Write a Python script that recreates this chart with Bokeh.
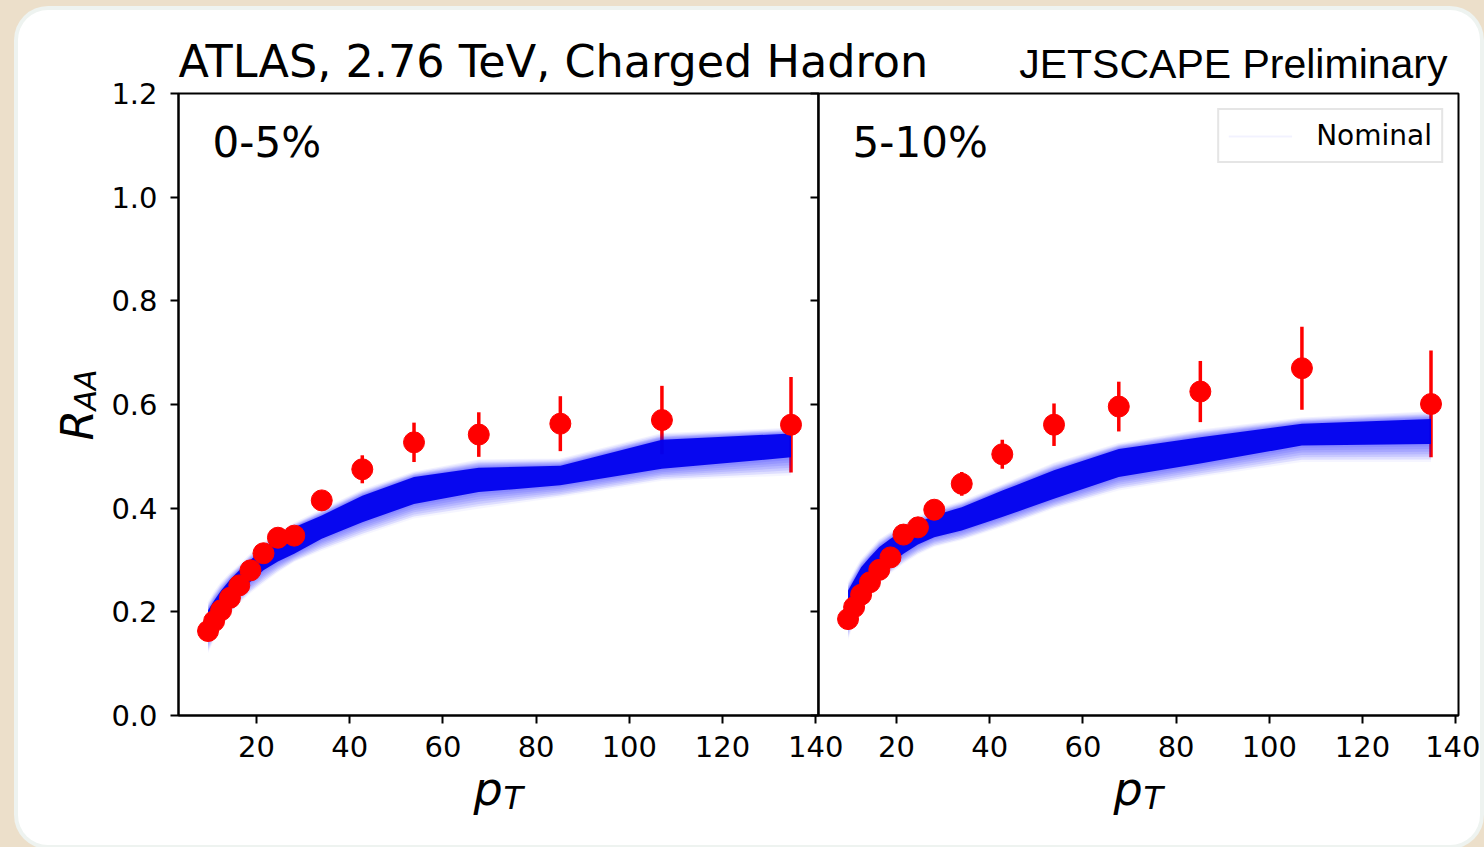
import numpy as np
from bokeh.plotting import figure
from bokeh.models import (FixedTicker, PrintfTickFormatter, Label, Legend, LegendItem,
                          GridBox, Column, Range1d, CustomLabelingPolicy)
from bokeh.embed import file_html
from bokeh.resources import INLINE

# ---------------- data ----------------
pt_bins = [9.6, 10.9, 12.4, 14.3, 16.3, 18.7, 21.5, 24.6, 28.1, 34.0, 42.7, 53.8, 67.7, 85.2, 107.0, 134.7]

# ATLAS data, 0-5%
raa_0_5 = [0.163, 0.182, 0.203, 0.227, 0.251, 0.280, 0.313, 0.343, 0.347, 0.415, 0.475, 0.527, 0.542, 0.563, 0.570, 0.561]
err_0_5 = [0.008, 0.008, 0.008, 0.009, 0.009, 0.010, 0.010, 0.011, 0.012, 0.017, 0.027, 0.038, 0.043, 0.053, 0.066, 0.092]
# ATLAS data, 5-10%
raa_5_10 = [0.186, 0.209, 0.233, 0.257, 0.281, 0.305, 0.349, 0.363, 0.397, 0.447, 0.504, 0.561, 0.596, 0.625, 0.670, 0.601]
err_5_10 = [0.008, 0.008, 0.009, 0.009, 0.010, 0.010, 0.011, 0.012, 0.013, 0.023, 0.028, 0.041, 0.048, 0.059, 0.080, 0.103]

# JETSCAPE "Nominal" posterior band, 0-5%
core_lo_0_5 = [0.151, 0.175, 0.197, 0.217, 0.235, 0.258, 0.280, 0.297, 0.312, 0.341, 0.373, 0.408, 0.431, 0.444, 0.476, 0.498]
core_hi_0_5 = [0.203, 0.222, 0.241, 0.262, 0.280, 0.300, 0.322, 0.343, 0.363, 0.386, 0.424, 0.460, 0.478, 0.482, 0.532, 0.544]
outer_lo_0_5 = [0.120, 0.146, 0.170, 0.194, 0.216, 0.236, 0.255, 0.276, 0.296, 0.318, 0.347, 0.380, 0.399, 0.421, 0.453, 0.463]
outer_hi_0_5 = [0.216, 0.236, 0.255, 0.273, 0.289, 0.310, 0.332, 0.352, 0.370, 0.396, 0.434, 0.469, 0.492, 0.494, 0.543, 0.553]
# JETSCAPE "Nominal" posterior band, 5-10%
core_lo_5_10 = [0.183, 0.208, 0.235, 0.255, 0.273, 0.293, 0.312, 0.330, 0.344, 0.357, 0.383, 0.418, 0.460, 0.486, 0.521, 0.524]
core_hi_5_10 = [0.241, 0.262, 0.286, 0.306, 0.325, 0.341, 0.357, 0.372, 0.386, 0.402, 0.434, 0.473, 0.514, 0.537, 0.563, 0.572]
outer_lo_5_10 = [0.145, 0.180, 0.209, 0.232, 0.254, 0.274, 0.293, 0.310, 0.325, 0.338, 0.363, 0.399, 0.434, 0.460, 0.489, 0.489]
outer_hi_5_10 = [0.254, 0.276, 0.299, 0.318, 0.338, 0.352, 0.367, 0.382, 0.396, 0.412, 0.444, 0.486, 0.524, 0.550, 0.573, 0.585]

x_ticks = [20, 40, 60, 80, 100, 120, 140]
y_ticks = [0.0, 0.2, 0.4, 0.6, 0.8, 1.0, 1.2]
x_lim = (3.26, 140.6)
y_lim = (0.0, 1.2)

FONT = "DejaVu Sans"
BASE_FIX = 15  # px: Label text is drawn this far below its anchor


def make_panel(title, title_font, title_size, title_align, b_left, b_right,
               raa, err, c_lo, c_hi, o_lo, o_hi, cent_text, show_ylabels, legend):
    p = figure(frame_width=640, frame_height=622,
               x_range=Range1d(*x_lim), y_range=Range1d(*y_lim),
               min_border_left=b_left, min_border_right=b_right,
               min_border_top=83, min_border_bottom=130,
               output_backend="svg", toolbar_location=None,
               background_fill_color="white", border_fill_color=None)
    p.frame_align = False
    p.xgrid.visible = False
    p.ygrid.visible = False
    p.outline_line_color = "black"
    p.outline_line_width = 2
    p.outline_line_alpha = 1

    for ax in (p.xaxis[0], p.yaxis[0]):
        ax.axis_line_width = 2
        ax.axis_line_color = "black"
        ax.major_tick_line_width = 2
        ax.major_tick_out = 8
        ax.major_tick_in = 0
        ax.minor_tick_out = 0
        ax.minor_tick_in = 0
        ax.major_label_text_font = FONT
        ax.major_label_text_font_size = "29px"
        ax.major_label_text_color = "black"
    p.xaxis.ticker = FixedTicker(ticks=x_ticks)
    p.yaxis.ticker = FixedTicker(ticks=y_ticks)
    p.yaxis.formatter = PrintfTickFormatter(format="%.1f")
    p.xaxis.major_label_standoff = 12
    p.yaxis.major_label_standoff = 13
    if not show_ylabels:
        p.yaxis.major_label_policy = CustomLabelingPolicy(
            code="for (const i of indices) indices.unset(i); return indices")

    p.title.text = title
    p.title.text_font = title_font
    p.title.text_font_size = title_size
    p.title.text_font_style = "normal"
    p.title.text_color = "black"
    p.title.align = title_align
    p.title.standoff = 13
    if title_align == "right":
        p.title.offset = 11

    x = np.array(pt_bins)
    y = np.array(raa)
    e = np.array(err)
    c_lo, c_hi, o_lo, o_hi = map(np.array, (c_lo, c_hi, o_lo, o_hi))

    # error bars (under the band)
    p.segment(x0=x, y0=y - e, x1=x, y1=y + e, line_color="#ff0000", line_width=3.5)

    # band: faint outer envelope, soft gradient, dense core
    blue = "#0000ff"
    p.varea(x=x, y1=o_lo, y2=o_hi, fill_color=blue, fill_alpha=0.04)
    n = 6
    for k in range(1, n + 1):
        t = k / (n + 1)
        p.varea(x=x, y1=o_lo + (c_lo - o_lo) * t, y2=o_hi + (c_hi - o_hi) * t,
                fill_color=blue, fill_alpha=0.09)
    p.varea(x=x, y1=c_lo, y2=c_hi, fill_color="#0000ee", fill_alpha=0.95)
    faint = p.line(x=x, y=o_hi, line_color=blue, line_alpha=0.05, line_width=2)

    # data points
    p.scatter(x=x, y=y, size=21, marker="circle", fill_color="#ff0000", line_color="#ff0000")

    # centrality label (baseline at 1.077)
    p.add_layout(Label(x=10.57, y=1.077, y_offset=BASE_FIX, text=cent_text, text_font=FONT,
                       text_font_size="42px", text_color="black",
                       text_baseline="alphabetic", text_align="left"))

    if legend:
        leg = Legend(items=[LegendItem(label="Nominal", renderers=[faint])],
                     location="top_right", margin=15, padding=9, spacing=0,
                     glyph_width=64, glyph_height=20, label_standoff=24,
                     label_text_font=FONT, label_text_font_size="28px",
                     label_text_color="black",
                     border_line_color="#cccccc", border_line_width=2,
                     background_fill_color="white", background_fill_alpha=1)
        p.add_layout(leg)
    return p


pA = make_panel("ATLAS, 2.76 TeV, Charged Hadron", "DejaVu Sans", "44.5px", "left", 160, 662,
                raa_0_5, err_0_5, core_lo_0_5, core_hi_0_5, outer_lo_0_5, outer_hi_0_5,
                "0-5%", True, False)
pB = make_panel("JETSCAPE Preliminary", "Liberation Sans", "41px", "right", 800, 22,
                raa_5_10, err_5_10, core_lo_5_10, core_hi_5_10, outer_lo_5_10, outer_hi_5_10,
                "5-10%", False, True)

# transparent overlay holding the axis titles (window pixel coordinates)
ov = figure(frame_width=1462, frame_height=835,
            x_range=Range1d(18, 1480), y_range=Range1d(845, 10),
            min_border=0, x_axis_location=None, y_axis_location=None,
            output_backend="svg", toolbar_location=None,
            background_fill_color=None, border_fill_color=None, outline_line_color=None)
ov.frame_align = False
ov.xgrid.visible = False
ov.ygrid.visible = False


def txt(x, y, s, size, angle=0.0):
    ov.add_layout(Label(x=x, y=y, text=s, text_font=FONT, text_font_size=size,
                        text_font_style="italic", text_color="black", angle=angle,
                        text_baseline="alphabetic", text_align="left"))


# p_T under each panel
for dx in (0, 640):
    txt(473 + dx, 803 - BASE_FIX, "p", "46px")
    txt(503 + dx, 812 - BASE_FIX, "T", "32px")
# R_AA, rotated
txt(92 - BASE_FIX, 440, "R", "44px", np.pi / 2)
txt(100 - BASE_FIX, 410, "AA", "30px", np.pi / 2)

card = GridBox(children=[(pA, 0, 0), (pB, 0, 0), (ov, 0, 0)], margin=(10, 0, 0, 18),
               styles={"background-color": "white", "border-radius": "30px",
                       "box-shadow": "0 0 0 4px #eef3f0"})
page = Column(children=[card], width=1484, height=847,
              styles={"background-color": "#ecdfca"})

open("out.html", "w").write(file_html(page, INLINE))
